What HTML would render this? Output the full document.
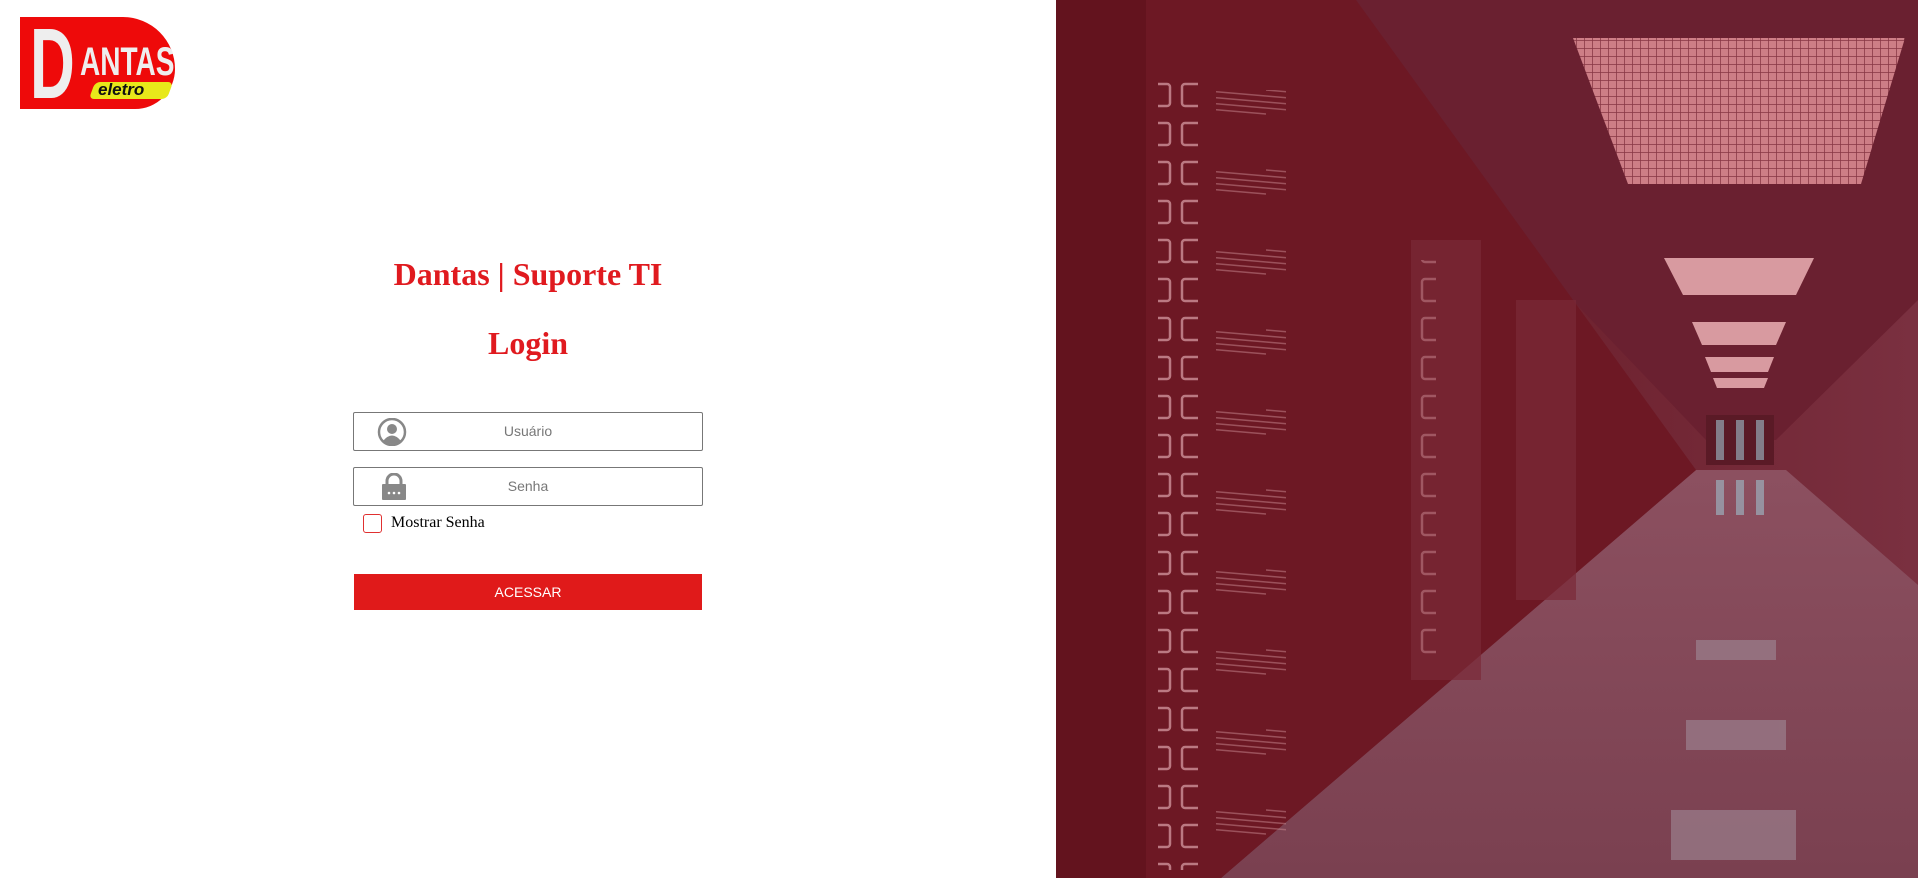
<!DOCTYPE html>
<html><head><meta charset="utf-8"><style>
html,body{margin:0;padding:0;width:1918px;height:878px;overflow:hidden;background:#fff;font-family:"Liberation Sans",sans-serif}
.abs{position:absolute}
h1{position:absolute;margin:0;width:1056px;text-align:center;font-family:"Liberation Serif",serif;font-weight:bold;color:#e01a1f;font-size:32px}
.inp{position:absolute;left:353px;width:348px;height:37px;border:1px solid #777;border-radius:2px;box-sizing:content-box}
.inp span{position:absolute;left:0;right:0;top:10px;text-align:center;color:#777;font-size:14px}
</style></head><body>
<!-- logo -->
<div class="abs" style="left:20px;top:17px;width:155px;height:92px;background:#ee0a0a;border-radius:0 60px 46px 0"></div>
<div class="abs" style="left:30px;top:14px;font:bold 100px/100px 'Liberation Sans',sans-serif;color:#eee;transform:scaleX(0.62);transform-origin:left">D</div>
<div class="abs" style="left:80px;top:42px;font:bold 40px/40px 'Liberation Sans',sans-serif;color:#eee;transform:scaleX(0.7);transform-origin:left">ANTAS</div>
<div class="abs" style="left:92px;top:82px;width:78px;height:17px;background:#e8e81a;transform:skewX(-20deg);border-radius:5px"></div>
<div class="abs" style="left:98px;top:80px;font:italic bold 17px/20px 'Liberation Sans',sans-serif;color:#111">eletro</div>

<h1 style="top:256px">Dantas | Suporte TI</h1>
<h1 style="top:325px">Login</h1>

<div class="inp" style="top:412px"><span>Usuário</span>
<svg class="abs" style="left:22px;top:5px" width="32" height="28" viewBox="0 0 32 28"><circle cx="16" cy="14" r="13" fill="none" stroke="#888" stroke-width="2.5"/><circle cx="16" cy="11" r="5" fill="#888"/><path d="M7 23 Q16 12 25 23 Q16 29 7 23Z" fill="#888"/></svg></div>
<div class="inp" style="top:467px"><span>Senha</span>
<svg class="abs" style="left:27px;top:5px" width="26" height="28" viewBox="0 0 26 28"><path d="M6 12 V8 a7 7 0 0 1 14 0 V12" fill="none" stroke="#888" stroke-width="3"/><rect x="1" y="11" width="24" height="16" rx="1" fill="#888"/><circle cx="8" cy="20" r="1.3" fill="#fff"/><circle cx="13" cy="20" r="1.3" fill="#fff"/><circle cx="18" cy="20" r="1.3" fill="#fff"/></svg></div>
<div class="abs" style="left:363px;top:514px;width:17px;height:17px;border:1.5px solid #e03030;border-radius:3px"></div>
<div class="abs" style="left:391px;top:514px;font:16px 'Liberation Serif',serif;color:#000">Mostrar Senha</div>
<div class="abs" style="left:354px;top:574px;width:348px;height:36px;background:#e01a1a;color:#fff;font-size:14px;text-align:center;line-height:36px">ACESSAR</div>

<svg class="abs" style="left:1056px;top:0" width="862" height="878" viewBox="0 0 862 878">
<defs>
<linearGradient id="w" x1="0" x2="1"><stop offset="0" stop-color="#5e0f18"/><stop offset="1" stop-color="#7a3040"/></linearGradient>
<linearGradient id="f" x1="0" y1="0" x2="0" y2="1"><stop offset="0" stop-color="#8c5060"/><stop offset="1" stop-color="#7a4050"/></linearGradient>
<pattern id="g" width="8" height="8" patternUnits="userSpaceOnUse"><rect width="8" height="8" fill="#d88890"/><path d="M0 0H8M0 0V8" stroke="#8a3a46" stroke-width="1.5"/></pattern>
<pattern id="r" width="40" height="39" patternUnits="userSpaceOnUse"><rect x="6" y="6" width="28" height="22" rx="3" fill="none" stroke="#c98a92" stroke-width="2.5"/></pattern>
<pattern id="s" width="70" height="80" patternUnits="userSpaceOnUse"><g stroke="#c98a92" stroke-width="1.5"><line x1="0" y1="10" x2="70" y2="16"/><line x1="0" y1="16" x2="70" y2="22"/><line x1="0" y1="22" x2="70" y2="28"/><line x1="0" y1="28" x2="70" y2="34"/></g></pattern>
</defs>
<rect width="862" height="878" fill="url(#w)"/>
<polygon points="230,0 862,0 862,300 720,440 650,440" fill="#6a2030"/>
<polygon points="165,878 640,470 730,470 862,585 862,878" fill="url(#f)"/>
<polygon points="0,0 300,0 640,470 165,878 0,878" fill="#6d1824"/>
<rect x="102" y="70" width="40" height="800" fill="url(#r)" opacity="0.85"/>
<rect x="160" y="90" width="70" height="760" fill="url(#s)" opacity="0.5"/>
<rect x="0" y="0" width="90" height="878" fill="#5a0e18" opacity="0.5"/>
<rect x="355" y="240" width="70" height="440" fill="#7a2a38" opacity="0.7"/>
<rect x="360" y="260" width="20" height="400" fill="url(#r)" opacity="0.5"/>
<rect x="460" y="300" width="60" height="300" fill="#7a2a38" opacity="0.7"/>
<polygon points="517,38 849,38 805,184 572,184" fill="url(#g)" opacity="0.9"/>
<polygon points="608,258 758,258 740,295 627,295" fill="#d89aa0"/>
<polygon points="636,322 730,322 720,345 646,345" fill="#d89aa0"/>
<polygon points="649,357 718,357 712,372 655,372" fill="#d89aa0"/>
<polygon points="657,378 712,378 708,388 661,388" fill="#d89aa0"/>
<rect x="650" y="415" width="68" height="50" fill="#5a1a26"/>
<g fill="#9fc0cc" opacity="0.6"><rect x="660" y="420" width="8" height="40"/><rect x="680" y="420" width="8" height="40"/><rect x="700" y="420" width="8" height="40"/>
<rect x="660" y="480" width="8" height="35"/><rect x="680" y="480" width="8" height="35"/><rect x="700" y="480" width="8" height="35"/></g>
<g fill="#a08a98" opacity="0.6"><rect x="640" y="640" width="80" height="20"/><rect x="630" y="720" width="100" height="30"/><rect x="615" y="810" width="125" height="50"/></g>
</svg>
</body></html>
